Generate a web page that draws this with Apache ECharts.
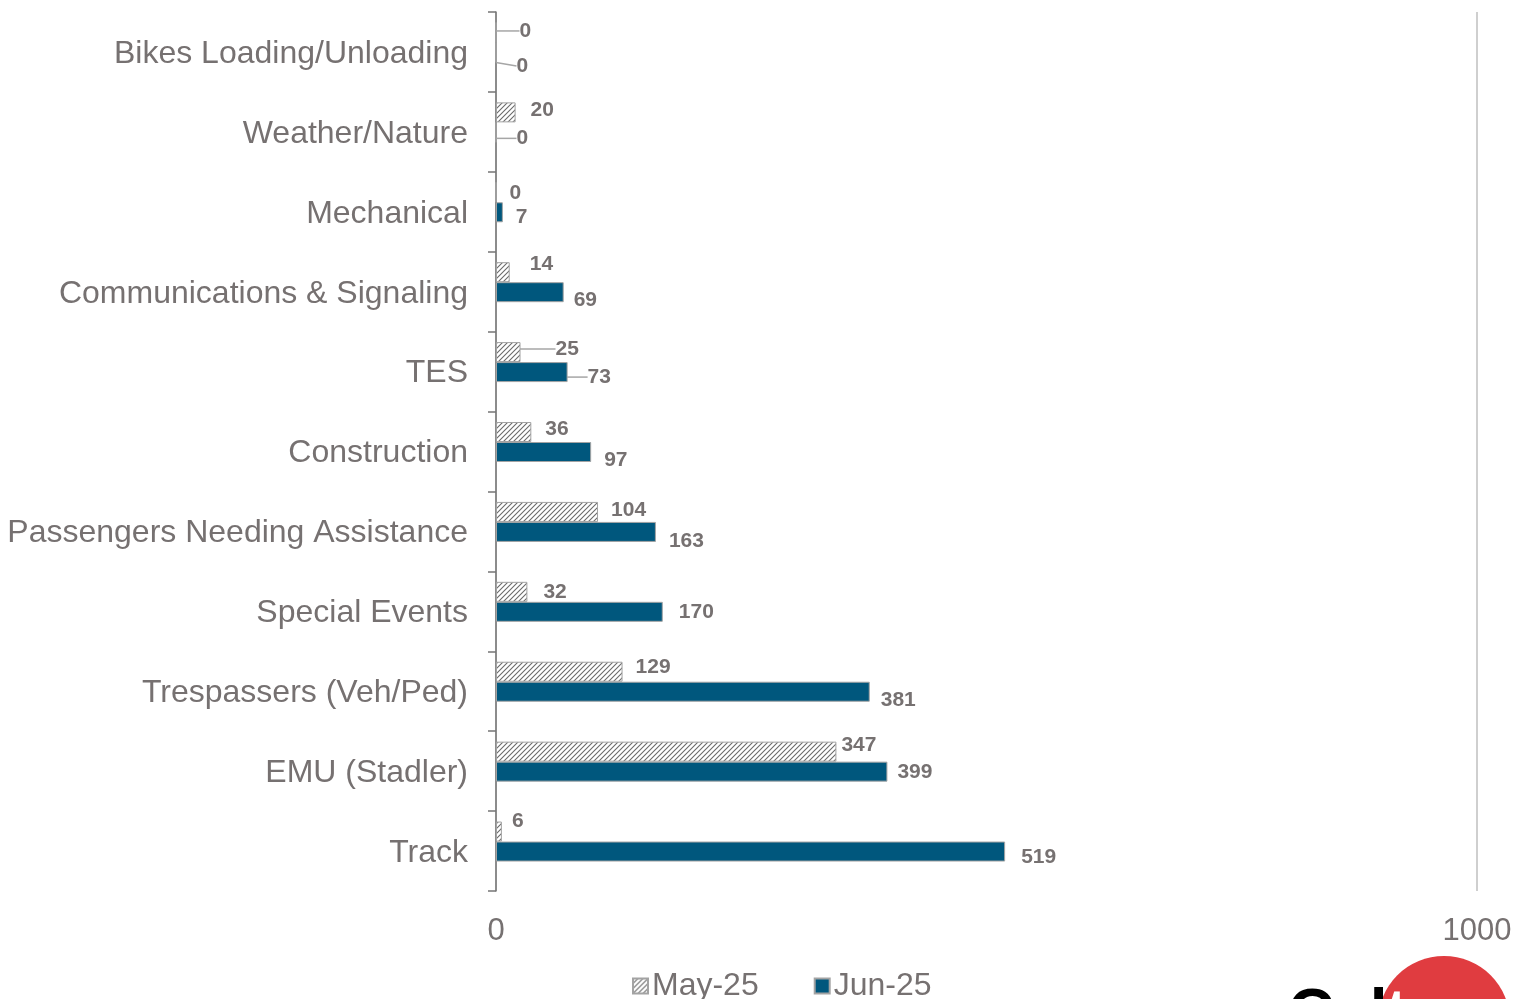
<!DOCTYPE html>
<html>
<head>
<meta charset="utf-8">
<script src="https://cdn.jsdelivr.net/npm/echarts@6/dist/echarts.min.js"></script>
<style>
  html, body { margin: 0; padding: 0; background: #ffffff; }
  #chart { width: 1526px; height: 999px; }
</style>
</head>
<body>
<div id="chart"></div>
<script>
// Delay causes, listed top to bottom
const categories = [
  'Bikes Loading/Unloading',
  'Weather/Nature',
  'Mechanical',
  'Communications & Signaling',
  'TES',
  'Construction',
  'Passengers Needing Assistance',
  'Special Events',
  'Trespassers (Veh/Ped)',
  'EMU (Stadler)',
  'Track'
];
const seriesNames = ['May-25', 'Jun-25'];
const may25 = [0, 20, 0, 14, 25, 36, 104, 32, 129, 347, 6];
const jun25 = [0, 0, 7, 69, 73, 97, 163, 170, 381, 399, 519];
const xTicks = { min: 0, max: 1000, step: 1000 };

// Label nudges (px) relative to the bar end, and which labels get a leader line
const mayNudgeX = [23, 15, 13, 20, 35, 14, 13, 16, 13, 5, 10];
const mayNudgeY = [-1.5, -2, 1, -8, -3, -3, -1.5, 0, -5, -6.5, -10];
const junNudgeX = [20, 20, 13, 10, 20, 13, 13, 16, 11, 10, 16];
const junNudgeY = [13.5, 6, 5, 8, 5, 8, 9.5, 0.5, 8.5, 0.5, 5.5];
const mayLeaders = [0, 4];
const junLeaders = [0, 1, 4];

const TEXT = '#767171';
const FONT = '"Liberation Sans", Arial, sans-serif';
const JUN_BLUE = '#00577D';
const BORDER = '#A3A3A3';

// Diagonal hatch used for the May bars
function hatch() {
  const s = 5;
  const c = document.createElement('canvas');
  c.width = s; c.height = s;
  const g = c.getContext('2d');
  g.fillStyle = '#ffffff';
  g.fillRect(0, 0, s, s);
  g.strokeStyle = '#6a6a6a';
  g.lineWidth = 1.1;
  g.beginPath();
  g.moveTo(-1, s + 1); g.lineTo(s + 1, -1);
  g.moveTo(-1, 1); g.lineTo(1, -1);
  g.moveTo(s - 1, s + 1); g.lineTo(s + 1, s - 1);
  g.stroke();
  return c;
}

function withLeaders(values, leaders) {
  return values.map((v, i) => leaders.includes(i)
    ? { value: v, labelLine: { show: true } }
    : v);
}

const nudges = [[mayNudgeX, mayNudgeY], [junNudgeX, junNudgeY]];

const chart = echarts.init(document.getElementById('chart'), null, { renderer: 'canvas' });

// grid 0: axis frame, grid 1: bars (sit slightly above band centre), grid 2: category names
const gridLeft = 496, gridRight = 49, gridTop = 12, gridBottom = 108, barShift = 9.5, nameShift = 2;

chart.setOption({
  animation: false,
  backgroundColor: '#ffffff',
  textStyle: { fontFamily: FONT },
  grid: [
    { left: gridLeft, right: gridRight, top: gridTop, bottom: gridBottom },
    { left: gridLeft, right: gridRight, top: gridTop - barShift, bottom: gridBottom + barShift },
    { left: gridLeft, right: gridRight, top: gridTop + nameShift, bottom: gridBottom - nameShift }
  ],
  legend: {
    data: seriesNames,
    left: 627,
    top: 965,
    icon: 'rect',
    itemWidth: 15,
    itemHeight: 15,
    itemGap: 55,
    textStyle: { color: TEXT, fontSize: 32, fontFamily: FONT, padding: [0, 0, 0, -1] }
  },
  xAxis: [
    {
      gridIndex: 0, type: 'value',
      min: xTicks.min, max: xTicks.max, interval: xTicks.step,
      axisLine: { show: false },
      axisTick: { show: false },
      splitLine: { show: true, lineStyle: { color: '#BFBFBF', width: 1.5 } },
      axisLabel: {
        color: TEXT, fontSize: 31, fontFamily: FONT, margin: 25,
        formatter: (v) => String(v)
      }
    },
    { gridIndex: 1, type: 'value', min: xTicks.min, max: xTicks.max, show: false },
    { gridIndex: 2, type: 'value', min: xTicks.min, max: xTicks.max, show: false }
  ],
  yAxis: [
    {
      gridIndex: 0, type: 'category', data: categories, inverse: true,
      axisLine: { show: true, lineStyle: { color: '#767676', width: 1.5 } },
      axisTick: { show: true, length: 8, lineStyle: { color: '#767676', width: 1.5 } },
      axisLabel: { show: false },
      splitLine: { show: false }
    },
    { gridIndex: 1, type: 'category', data: categories, inverse: true, show: false },
    {
      gridIndex: 2, type: 'category', data: categories, inverse: true,
      axisLine: { show: false },
      axisTick: { show: false },
      splitLine: { show: false },
      axisLabel: { color: TEXT, fontSize: 32, fontFamily: FONT, margin: 28 }
    }
  ],
  series: [
    {
      name: seriesNames[0], type: 'bar',
      xAxisIndex: 1, yAxisIndex: 1,
      data: withLeaders(may25, mayLeaders),
      barWidth: 20, barGap: '0%',
      itemStyle: {
        color: { image: hatch(), repeat: 'repeat' },
        borderColor: BORDER, borderWidth: 1
      },
      label: {
        show: true, position: 'right', distance: 0,
        color: TEXT, fontSize: 21, fontWeight: 'bold', fontFamily: FONT
      },
      labelLine: { show: false, lineStyle: { color: '#A6A6A6', width: 1.5 } },
      z: 3
    },
    {
      name: seriesNames[1], type: 'bar',
      xAxisIndex: 1, yAxisIndex: 1,
      data: withLeaders(jun25, junLeaders),
      barWidth: 20, barGap: '0%',
      itemStyle: { color: JUN_BLUE, borderColor: BORDER, borderWidth: 1 },
      label: {
        show: true, position: 'right', distance: 0,
        color: TEXT, fontSize: 21, fontWeight: 'bold', fontFamily: FONT
      },
      labelLine: { show: false, lineStyle: { color: '#A6A6A6', width: 1.5 } },
      z: 3
    }
  ],
  labelLayout: function (params) {
    const n = nudges[params.seriesIndex];
    if (!n) return {};
    return { dx: n[0][params.dataIndex], dy: n[1][params.dataIndex] };
  },
  graphic: [
    {
      type: 'circle',
      shape: { cx: 1444, cy: 1022, r: 66 },
      style: { fill: '#E03C40' },
      z: 10
    },
    {
      type: 'text',
      x: 1288, y: 984,
      style: { text: 'Cal', fill: '#000000', font: 'bold 64px ' + FONT },
      z: 11
    },
    {
      type: 'text',
      x: 1386, y: 984,
      style: { text: 'tra', fill: '#ffffff', font: 'bold 64px ' + FONT },
      z: 12
    }
  ]
});
</script>
</body>
</html>
